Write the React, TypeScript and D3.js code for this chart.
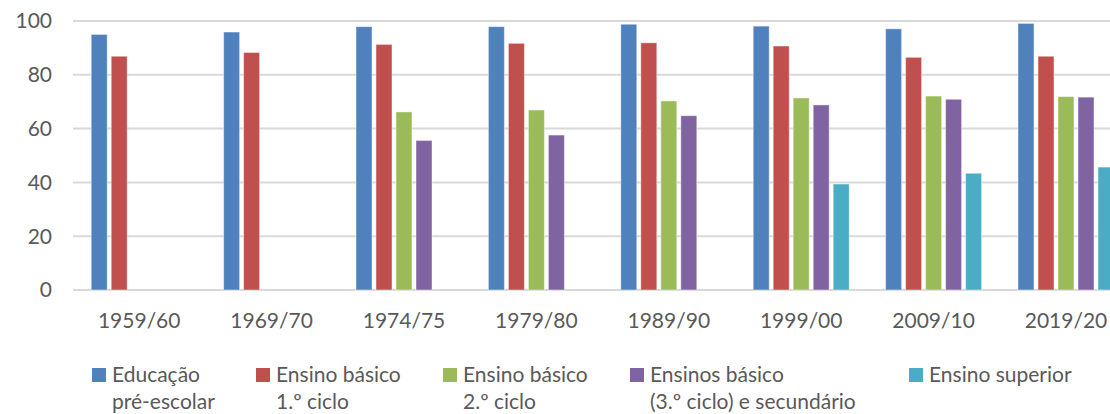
import React, { useRef, useEffect } from 'react';
import * as d3 from 'd3';

const categories = ['1959/60', '1969/70', '1974/75', '1979/80', '1989/90', '1999/00', '2009/10', '2019/20'];

const seriesNames = [
  'Educação pré-escolar',
  'Ensino básico 1.º ciclo',
  'Ensino básico 2.º ciclo',
  'Ensinos básico (3.º ciclo) e secundário',
  'Ensino superior',
];

// legend text split into lines as in the original
const legendLines = [
  ['Educação', 'pré-escolar'],
  ['Ensino básico', '1.º ciclo'],
  ['Ensino básico', '2.º ciclo'],
  ['Ensinos básico', '(3.º ciclo) e secundário'],
  ['Ensino superior'],
];

const preEscolar = [95.0, 95.9, 97.9, 97.9, 98.8, 98.1, 97.1, 99.1];
const basico1 = [86.9, 88.3, 91.3, 91.7, 91.9, 90.7, 86.5, 86.9];
const basico2 = [null, null, 66.2, 66.9, 70.3, 71.4, 72.1, 71.9];
const basico3Sec = [null, null, 55.6, 57.6, 64.8, 68.8, 70.9, 71.7];
const superior = [null, null, null, null, null, 39.4, 43.4, 45.7];

const yTicks = [0, 20, 40, 60, 80, 100];

const colors = ['#4F81BD', '#C0504D', '#9BBB59', '#8064A2', '#4BACC6'];

const WIDTH = 1110;
const HEIGHT = 414;

const App: React.FC = () => {
  const svgRef = useRef<SVGSVGElement | null>(null);

  useEffect(() => {
    const svg = d3.select(svgRef.current)
      .attr('width', WIDTH)
      .attr('height', HEIGHT)
      .style('background', '#fff');

    const font = 'Lato, Calibri, sans-serif';
    const textColor = '#595959';
    const fontSize = '21px';

    const values = [preEscolar, basico1, basico2, basico3Sec, superior];

    const plotLeft = 73;
    const step = 132.4;
    const top = 21;
    const bottom = 290;

    const x0 = d3.scaleBand<string>()
      .domain(categories)
      .range([plotLeft, plotLeft + step * categories.length])
      .padding(0);

    const x1 = d3.scaleBand<string>()
      .domain(seriesNames)
      .range([0, x0.bandwidth()])
      .paddingInner(0.2)
      .paddingOuter(0.91);

    const y = d3.scaleLinear().domain([0, 100]).range([bottom, top]);

    // grid lines
    svg.append('g')
      .selectAll('line')
      .data(yTicks)
      .enter()
      .append('line')
      .attr('x1', plotLeft)
      .attr('x2', WIDTH + 20)
      .attr('y1', d => y(d))
      .attr('y2', d => y(d))
      .attr('stroke', '#d9d9d9')
      .attr('stroke-width', 2);

    // y labels
    svg.append('g')
      .selectAll('text')
      .data(yTicks)
      .enter()
      .append('text')
      .attr('x', 52)
      .attr('y', d => y(d))
      .attr('dy', '0.35em')
      .attr('text-anchor', 'end')
      .style('font-family', font)
      .style('font-size', fontSize)
      .attr('fill', textColor)
      .text(d => d);

    // bars
    const groups = svg.append('g')
      .selectAll('g')
      .data(categories)
      .enter()
      .append('g')
      .attr('transform', d => `translate(${x0(d)},0)`);

    groups.selectAll('rect')
      .data((_, ci) => seriesNames.map((name, si) => ({ name, si, v: values[si][ci] })).filter(d => d.v != null))
      .enter()
      .append('rect')
      .attr('x', d => x1(d.name)!)
      .attr('width', x1.bandwidth())
      .attr('y', d => y(d.v as number))
      .attr('height', d => bottom - y(d.v as number))
      .attr('fill', d => colors[d.si])
      .attr('stroke', 'rgba(255,255,255,0.45)')
      .attr('stroke-width', 1);

    // category labels
    svg.append('g')
      .selectAll('text')
      .data(categories)
      .enter()
      .append('text')
      .attr('x', d => x0(d)! + x0.bandwidth() / 2)
      .attr('y', 328)
      .attr('text-anchor', 'middle')
      .style('font-family', font)
      .style('font-size', fontSize)
      .attr('fill', textColor)
      .text(d => d);

    // legend
    const legendX = [92, 256, 443, 630, 909];
    const legend = svg.append('g');
    const items = legend.selectAll('g')
      .data(seriesNames)
      .enter()
      .append('g')
      .attr('transform', (d, i) => `translate(${legendX[i]},0)`);

    items.append('rect')
      .attr('x', 0)
      .attr('y', 368)
      .attr('width', 14)
      .attr('height', 14)
      .attr('fill', (d, i) => colors[i]);

    items.each(function (d, i) {
      const g = d3.select(this);
      legendLines[i].forEach((line, li) => {
        g.append('text')
          .attr('x', 20)
          .attr('y', 382 + li * 27)
          .style('font-family', font)
          .style('font-size', fontSize)
          .attr('fill', textColor)
          .text(line);
      });
    });

    return () => {
      svg.selectAll('*').remove();
    };
  }, []);

  return <svg ref={svgRef} style={{ position: 'absolute', left: 0, top: 0 }}></svg>;
};

export default App;
